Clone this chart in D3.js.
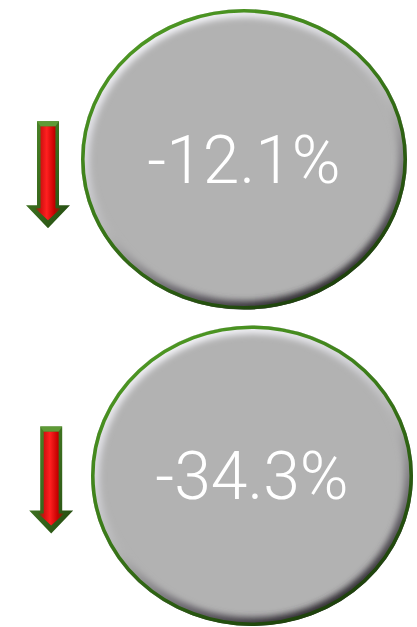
<!DOCTYPE html>
<html>
<head>
<meta charset="utf-8">
<script src="https://cdn.jsdelivr.net/npm/d3@7/dist/d3.min.js"></script>
<style>
  html, body { margin: 0; padding: 0; background: #ffffff; }
  svg { display: block; }
</style>
</head>
<body>
<div id="chart"></div>
<script>
// Period-over-period change indicators
const labels = ["A", "B"];
const changes = [-12.1, -34.3];

const width = 417, height = 627;

const svg = d3.select("#chart").append("svg")
  .attr("width", width)
  .attr("height", height);

const defs = svg.append("defs");

// Vertical slots for each indicator
const y = d3.scaleBand().domain(labels).range([9, 626]).paddingInner(0.05);
// Slight horizontal drift of each indicator
const drift = d3.scaleLinear().domain([0, labels.length - 1]).range([0, 8]);

// plain hyphen for the sign
const locale = d3.formatLocale({ decimal: ".", thousands: ",", grouping: [3], currency: ["", ""], minus: "-" });
const fmt = v => locale.format(".1f")(v) + "%";

// Gradients
const rim = defs.append("linearGradient").attr("id", "rim")
  .attr("x1", "0.2").attr("y1", "0").attr("x2", "0.8").attr("y2", "1");
rim.append("stop").attr("offset", "0%").attr("stop-color", "#4f9a24");
rim.append("stop").attr("offset", "45%").attr("stop-color", "#3a7a18");
rim.append("stop").attr("offset", "100%").attr("stop-color", "#1a3a0a");

const bevel = defs.append("linearGradient").attr("id", "bevel")
  .attr("x1", "0.25").attr("y1", "0").attr("x2", "0.75").attr("y2", "1");
bevel.append("stop").attr("offset", "0%").attr("stop-color", "#f8f8fc");
bevel.append("stop").attr("offset", "30%").attr("stop-color", "#d8d8de");
bevel.append("stop").attr("offset", "55%").attr("stop-color", "#b2b2b2");
bevel.append("stop").attr("offset", "80%").attr("stop-color", "#5e5a62");
bevel.append("stop").attr("offset", "100%").attr("stop-color", "#1e1a20");

defs.append("filter").attr("id", "soft")
  .attr("x", "-10%").attr("y", "-10%").attr("width", "120%").attr("height", "120%")
  .append("feGaussianBlur").attr("stdDeviation", 3);

const shaftGrad = defs.append("linearGradient").attr("id", "shaft")
  .attr("x1", "0").attr("y1", "0").attr("x2", "1").attr("y2", "0");
shaftGrad.append("stop").attr("offset", "0%").attr("stop-color", "#3c5a14");
shaftGrad.append("stop").attr("offset", "22%").attr("stop-color", "#d01010");
shaftGrad.append("stop").attr("offset", "45%").attr("stop-color", "#ff2020");
shaftGrad.append("stop").attr("offset", "75%").attr("stop-color", "#c40000");
shaftGrad.append("stop").attr("offset", "100%").attr("stop-color", "#3a4a10");

const frame = defs.append("linearGradient").attr("id", "frame")
  .attr("x1", "0").attr("y1", "0").attr("x2", "1").attr("y2", "1");
frame.append("stop").attr("offset", "0%").attr("stop-color", "#4e8a2a");
frame.append("stop").attr("offset", "100%").attr("stop-color", "#234a10");

const groups = svg.selectAll("g.indicator")
  .data(changes.map((v, i) => ({ label: labels[i], value: v, i })))
  .join("g").attr("class", "indicator");

groups.each(function (d) {
  const g = d3.select(this);
  const top = y(d.label), bw = y.bandwidth();
  const cy = top + bw / 2;
  const cx = 244 + drift(d.i);
  const rx = 163 - drift(d.i) / 4, ry = bw / 2;

  const clipId = "clip" + d.i;
  defs.append("clipPath").attr("id", clipId)
    .append("ellipse").attr("cx", cx).attr("cy", cy).attr("rx", rx).attr("ry", ry);

  // disc body
  g.append("ellipse")
    .attr("cx", cx).attr("cy", cy).attr("rx", rx).attr("ry", ry)
    .attr("fill", "#b2b2b2");

  // soft inner bevel
  g.append("g").attr("clip-path", `url(#${clipId})`)
    .append("ellipse")
    .attr("cx", cx).attr("cy", cy).attr("rx", rx - 3).attr("ry", ry - 3)
    .attr("fill", "none")
    .attr("stroke", "url(#bevel)")
    .attr("stroke-width", 11)
    .attr("filter", "url(#soft)");

  // green rim
  g.append("ellipse")
    .attr("cx", cx).attr("cy", cy).attr("rx", rx - 1.8).attr("ry", ry - 1.8)
    .attr("fill", "none")
    .attr("stroke", "url(#rim)")
    .attr("stroke-width", 3.6);

  // value label
  const fs = 66;
  g.append("text")
    .attr("x", cx).attr("y", cy + fs * 0.36)
    .attr("text-anchor", "middle")
    .attr("font-family", "Roboto, 'Open Sans', sans-serif")
    .attr("font-weight", 300)
    .attr("font-size", fs)
    .attr("fill", "#ffffff")
    .text(fmt(d.value));

  // downward arrow
  const ax = 48 + drift(d.i) * 0.4;
  const aTop = cy - 38 - drift(d.i) * 1.4;
  const sw = 11, hw = 22, shaftEnd = aTop + 84, tip = aTop + 107;
  const outer = [
    [ax - sw, aTop], [ax + sw, aTop], [ax + sw, shaftEnd], [ax + hw, shaftEnd],
    [ax, tip], [ax - hw, shaftEnd], [ax - sw, shaftEnd]
  ];
  g.append("path")
    .attr("d", d3.line()(outer) + "Z")
    .attr("fill", "url(#frame)");

  const isw = 7.5, ihw = 13;
  const inner = [
    [ax - isw, aTop + 5], [ax + isw, aTop + 5], [ax + isw, shaftEnd + 3],
    [ax + ihw, shaftEnd + 3], [ax, tip - 8], [ax - ihw, shaftEnd + 3],
    [ax - isw, shaftEnd + 3]
  ];
  g.append("path")
    .attr("d", d3.line()(inner) + "Z")
    .attr("fill", "url(#shaft)");

  // bevel cap on top of the shaft
  g.append("path")
    .attr("d", d3.line()([[ax - sw, aTop], [ax + sw, aTop], [ax + isw, aTop + 5], [ax - isw, aTop + 5]]) + "Z")
    .attr("fill", "#5e9a36");
});
</script>
</body>
</html>
